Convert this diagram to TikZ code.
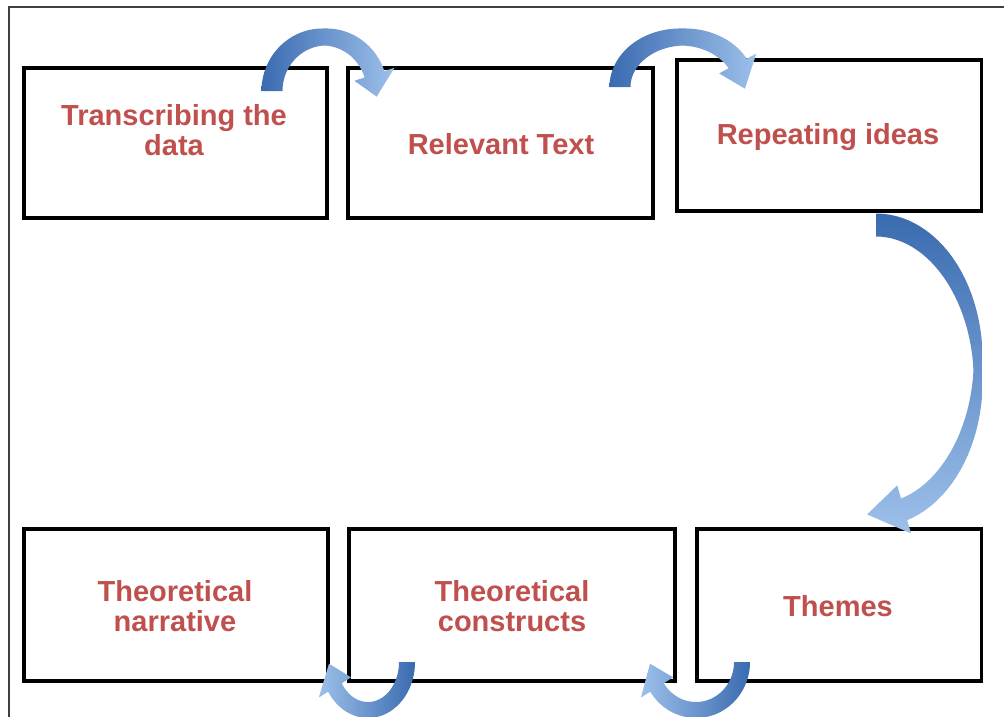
\documentclass[tikz,border=0pt]{standalone}
\usepackage{fontspec}
\setmainfont{Liberation Sans}
\definecolor{txtred}{HTML}{C0504D}
\definecolor{adark}{HTML}{3A6BB0}
\definecolor{alight}{HTML}{9DC0EA}
% #1 cx, #2 cy, #3 rx, #4 ry, #5 start angle, #6 head-base angle, #7 tip angle, #8 shaft width (may use \x), #9 head width
\newcommand{\blockarc}[9]{%
  \shade[arrowfill]
    plot[domain=#5:#6, samples=50] ({#1+(#3+(#8)/2)*cos(\x)},{#2+(#4+(#8)/2)*sin(\x)})
    -- ({#1+(#3+(#9)/2)*cos(#6)},{#2+(#4+(#9)/2)*sin(#6)})
    -- ({#1+#3*cos(#7)},{#2+#4*sin(#7)})
    -- ({#1+(#3-(#9)/2)*cos(#6)},{#2+(#4-(#9)/2)*sin(#6)})
    -- plot[domain=#6:#5, samples=50] ({#1+(#3-(#8)/2)*cos(\x)},{#2+(#4-(#8)/2)*sin(\x)})
    -- cycle;}
\tikzset{
  stagebox/.style={draw=black, line width=3.5pt, fill=white, rectangle, inner sep=0pt},
  stagetext/.style={text=txtred, font=\bfseries\fontsize{29}{29.5}\selectfont, align=center, inner sep=0pt},
  frameline/.style={draw=black!75, line width=1.5pt}
}
\begin{document}
\begin{tikzpicture}[x=1pt,y=-1pt]
\useasboundingbox (0,0) rectangle (1004,717);
\clip (0,0) rectangle (1004,717);
\fill[white] (0,0) rectangle (1004,717);
% outer frame (top and left edges visible)
\coordinate (ftr) at (1004,7);
\coordinate (ftl) at (9,7);
\coordinate (fbl) at (9,717);
\draw[frameline] (ftr) -- (ftl) -- (fbl);
% boxes
\node[stagebox, minimum width=303pt, minimum height=150pt] (b1) at (175.5,143) {};
\node[stagebox, minimum width=305pt, minimum height=150pt] (b2) at (500.5,143) {};
\node[stagebox, minimum width=304.5pt, minimum height=151pt] (b3) at (829,135.5) {};
\node[stagebox, minimum width=304pt, minimum height=152pt] (b4) at (176,605) {};
\node[stagebox, minimum width=326pt, minimum height=152pt] (b5) at (512,605) {};
\node[stagebox, minimum width=284.5pt, minimum height=152pt] (b6) at (839,605) {};
% texts
\node[stagetext] (t1) at (174,130) {Transcribing the\\data};
\node[stagetext] (t2) at (501,144) {Relevant Text};
\node[stagetext] (t3) at (828,137) {Repeating ideas};
\node[stagetext] (t4) at (175,606) {Theoretical\\narrative};
\node[stagetext] (t5) at (512,606) {Theoretical\\constructs};
\node[stagetext] (t6) at (838,606) {Themes};
% curved block arrows
\tikzset{arrowfill/.style={left color=adark, right color=alight}}
\blockarc{324.5}{91}{52.5}{54}{180}{342}{366}{17+4*abs(cos(\x))}{42}
\blockarc{682.5}{87}{62.5}{50}{180}{332}{362}{17+4*abs(cos(\x))}{42}
\tikzset{arrowfill/.style={top color=adark, bottom color=alight}}
\blockarc{876}{370}{102}{145}{270}{434}{455}{9+14*abs(sin(\x))}{50}
\tikzset{arrowfill/.style={left color=alight, right color=adark}}
\blockarc{368}{662}{39}{48}{0}{148}{178}{16}{38}
\blockarc{696}{662}{46}{48}{0}{148}{178}{16}{38}
\end{tikzpicture}
\end{document}
